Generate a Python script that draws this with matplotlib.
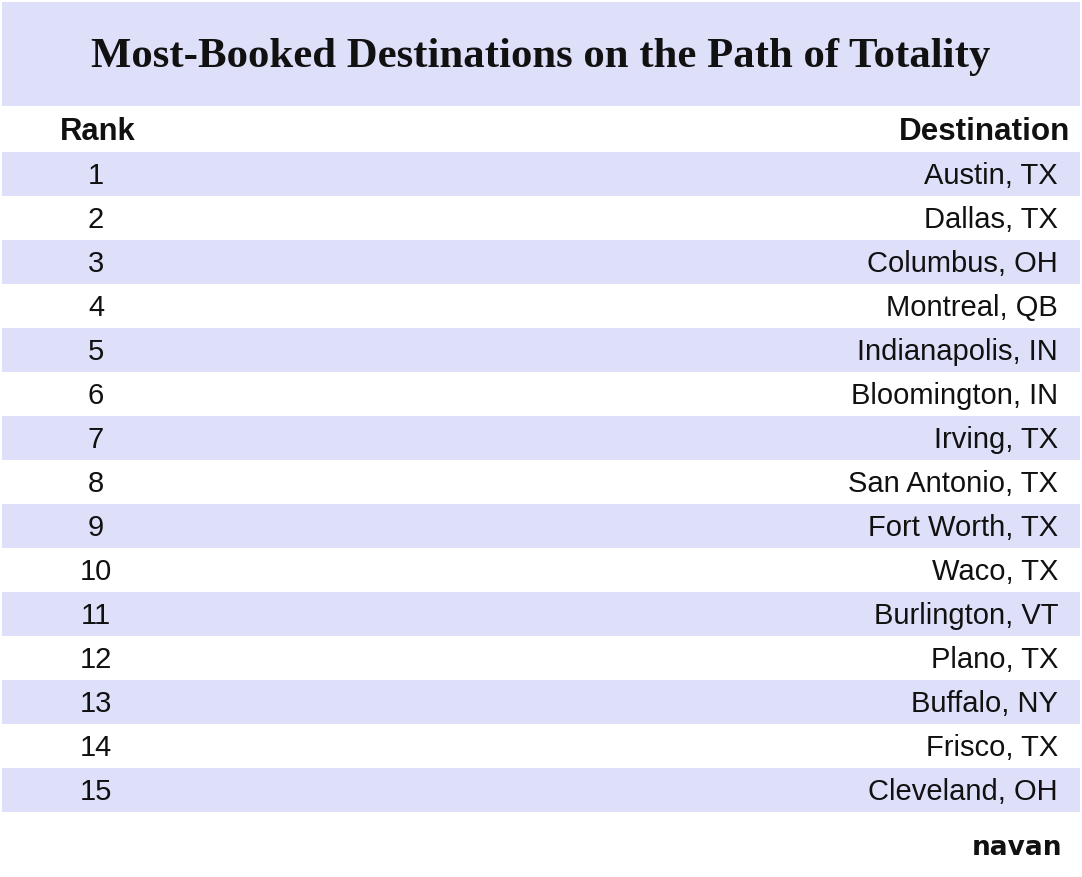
import matplotlib.pyplot as plt
from matplotlib.patches import Rectangle

title = 'Most-Booked Destinations on the Path of Totality'
col_headers = ['Rank', 'Destination']
ranks = list(range(1, 16))
destinations = ['Austin, TX', 'Dallas, TX', 'Columbus, OH', 'Montreal, QB',
                'Indianapolis, IN', 'Bloomington, IN', 'Irving, TX',
                'San Antonio, TX', 'Fort Worth, TX', 'Waco, TX',
                'Burlington, VT', 'Plano, TX', 'Buffalo, NY', 'Frisco, TX',
                'Cleveland, OH']

band = '#dedff9'
W, H = 1082, 878

fig = plt.figure(figsize=(W / 100, H / 100), dpi=100)
ax = fig.add_axes([0, 0, 1, 1])
ax.set_xlim(0, W)
ax.set_ylim(H, 0)
ax.axis('off')

# title band
ax.add_patch(Rectangle((2, 3), W - 4, 104, color=band, lw=0))
ax.text(541, 57, title, ha='center', va='center', fontsize=30.8,
        family='Liberation Serif', fontweight='bold', color='#111111')

# header row
ax.text(98, 132, col_headers[0], ha='center', va='center', fontsize=22.3,
        family='Liberation Sans', fontweight='bold', color='#111111')
ax.text(1070, 132, col_headers[1], ha='right', va='center', fontsize=22.6,
        family='Liberation Sans', fontweight='bold', color='#111111')

row_h = 44
top = 153
for i, (r, d) in enumerate(zip(ranks, destinations)):
    y0 = top + i * row_h
    if i % 2 == 0:
        ax.add_patch(Rectangle((2, y0), W - 4, row_h, color=band, lw=0))
    yc = y0 + row_h / 2 + 1.5
    ax.text(96, yc, str(r), ha='center', va='center', fontsize=21,
            family='Liberation Sans', color='#111111')
    ax.text(1058, yc, d, ha='right', va='center', fontsize=21,
            family='Liberation Sans', color='#111111')

# logo
ax.text(1062, 848, 'navan', ha='right', va='center', fontsize=19,
        family='DejaVu Sans', fontweight='bold', color='#111111')

fig.savefig('out.png', dpi=100)
